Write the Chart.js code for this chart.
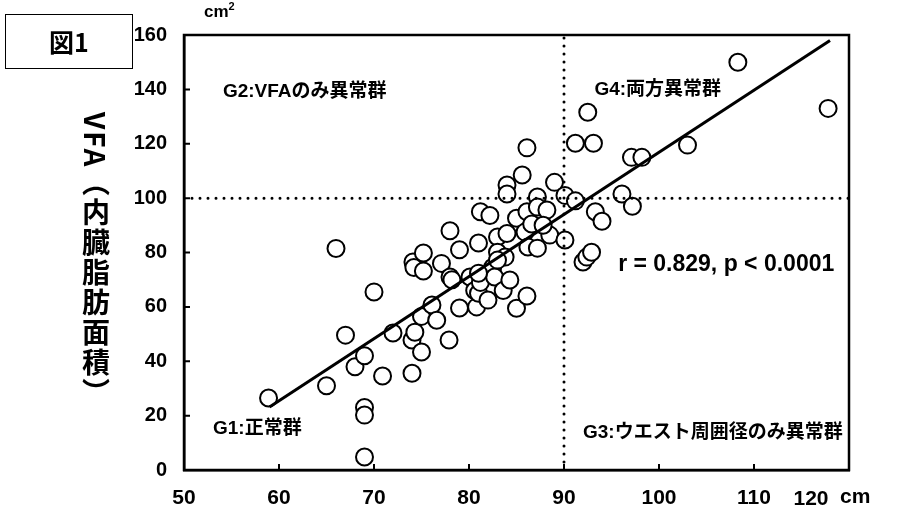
<!DOCTYPE html>
<html>
<head>
<meta charset="utf-8">
<script src="https://cdn.jsdelivr.net/npm/chart.js@4.4.1/dist/chart.umd.min.js"></script>
<style>
  body { margin: 0; background: #fff; }
  #wrap { position: relative; width: 907px; height: 511px; }
  #fig { position: absolute; left: 5px; top: 14px; width: 126px; height: 53px; border: 1.5px solid #000;
         font: bold 25px 'Noto Sans CJK JP', sans-serif; text-align: center; line-height: 53px; }
  #ytitle { position: absolute; left: 82px; top: 112px; writing-mode: vertical-rl; letter-spacing: 2px;
            font: bold 28px 'Noto Sans CJK JP', sans-serif; line-height: 1; }
  #unitY { position: absolute; left: 204px; top: 0px; font: bold 17px 'Liberation Sans', sans-serif; }
  #unitX { position: absolute; left: 840px; top: 484px; font: bold 21px 'Liberation Sans', sans-serif; }
</style>
</head>
<body>
<div id="wrap">
  <canvas id="myChart" width="907" height="511"></canvas>
  <div id="fig">図1</div>
  <div id="ytitle">VFA（内臓脂肪面積）</div>
  <div id="unitY">cm<sup style="font-size:11px">2</sup></div>
  <div id="unitX">cm</div>
</div>
<script>
// waist circumference (cm) and VFA (cm2)
var waist = [58.9, 65, 66, 67, 68, 69, 69, 69, 69, 70,
             70.9, 72, 74, 74, 74.3, 74.1, 74.2, 75, 75, 75.2,
             75.2, 76.1, 76.6, 77.1, 77.9, 78, 78, 78.2, 79, 79,
             80.1, 80.6, 80.8, 81, 81.2, 82.2, 81, 81.2, 82, 82.5,
             82.7, 83, 83, 83.6, 83.8, 84, 84.3, 84, 84, 85,
             85, 85.6, 85.9, 86.1, 86.1, 86.1, 86.2, 87.2, 87.2, 87.2,
             88.2, 88.5, 89, 90.1, 90.1, 91.2, 91.2, 92, 92.4, 92.9,
             92.5, 93.1, 93.3, 94, 96.1, 97.2, 97.1, 98.2, 103, 108.3,
             117.8, 86.6, 87.8, 83, 81];
var vfa = [26.5, 31, 81.5, 49.6, 38, 42, 23, 20.2, 4.8, 65.5,
           34.6, 50.4, 35.6, 47.8, 50.7, 76.5, 74.5, 43.4, 56.5, 79.8,
           73.2, 60.7, 55.1, 76, 47.8, 88, 71, 70, 59.6, 81,
           71, 66, 60, 65, 95, 93.6, 83.5, 69, 62.5, 74.6,
           71, 85.7, 80.1, 66, 78.3, 87, 69.9, 104.8, 101.5, 92.6,
           59.5, 108.5, 87.5, 118.5, 95, 64, 82, 81.6, 100.4, 96.7,
           95.6, 86.4, 105.8, 101, 84.6, 99, 120.2, 76.5, 78.3, 80.1,
           131.6, 120.2, 95, 91.5, 101.5, 97, 115, 115, 119.5, 150,
           133, 90.5, 90, 77.2, 72.4];

// regression line end points
var fitX = [59, 118];
var fitY = [23.2, 158];

// cut-off lines
var waistCut = 90;
var vfaCut = 100;

var xTicks = [50, 60, 70, 80, 90, 100, 110, 120];
var yTicks = [0, 20, 40, 60, 80, 100, 120, 140, 160];

var notes = [
    { text: 'G2:VFAのみ異常群', x: 54.1, y: 139.3 },
    { text: 'G4:両方異常群', x: 93.2, y: 139.7 },
    { text: 'G1:正常群', x: 53.05, y: 15.1 },
    { text: 'G3:ウエスト周囲径のみ異常群', x: 92, y: 13.6 },
    { text: 'r = 0.829, p < 0.0001', x: 95.7, y: 75.4, big: true }
];

var numFont = "'Liberation Sans Narrow', 'Liberation Sans', Arial, sans-serif";

var decor = {
    id: 'decor',
    afterDatasetsDraw: function (chart) {
        var ctx = chart.ctx, a = chart.chartArea;
        var xs = chart.scales.x, ys = chart.scales.y;
        ctx.save();
        ctx.strokeStyle = '#000';
        ctx.lineWidth = 2.5;
        ctx.strokeRect(a.left, a.top, a.right - a.left, a.bottom - a.top);
        // ticks point inward
        ctx.lineWidth = 2;
        ctx.beginPath();
        yTicks.forEach(function (v) {
            var p = ys.getPixelForValue(v);
            ctx.moveTo(a.left, p); ctx.lineTo(a.left + 6, p);
        });
        xTicks.forEach(function (v) {
            var p = xs.getPixelForValue(v);
            ctx.moveTo(p, a.bottom); ctx.lineTo(p, a.bottom - 6);
        });
        ctx.stroke();

        ctx.fillStyle = '#000';
        ctx.textBaseline = 'middle';
        ctx.textAlign = 'left';
        notes.forEach(function (n) {
            ctx.font = n.big ? "bold 23px 'Liberation Sans', 'Noto Sans CJK JP', sans-serif"
                             : "bold 19px 'Liberation Sans', 'Noto Sans CJK JP', sans-serif";
            ctx.fillText(n.text, xs.getPixelForValue(n.x), ys.getPixelForValue(n.y));
        });

        // last x label sits left of its tick in the original
        ctx.font = 'bold 21px ' + numFont;
        ctx.textAlign = 'center';
        ctx.fillText('120', xs.getPixelForValue(120) - 38, a.bottom + 29);
        ctx.restore();
    }
};

var ctx = document.getElementById('myChart').getContext('2d');
var chart = new Chart(ctx, {
    type: 'scatter',
    data: {
        datasets: [{
            label: 'fit',
            data: fitX.map(function (v, i) { return { x: v, y: fitY[i] }; }),
            showLine: true,
            borderColor: '#000',
            borderWidth: 3,
            pointRadius: 0,
            order: 0
        }, {
            label: 'vfa cut',
            data: [{ x: 50, y: vfaCut }, { x: 120, y: vfaCut }],
            showLine: true,
            borderColor: '#000',
            borderWidth: 3,
            borderDash: [0, 8],
            borderCapStyle: 'round',
            pointRadius: 0,
            order: 0
        }, {
            label: 'waist cut',
            data: [{ x: waistCut, y: 0 }, { x: waistCut, y: 160 }],
            showLine: true,
            borderColor: '#000',
            borderWidth: 3,
            borderDash: [0, 8],
            borderCapStyle: 'round',
            pointRadius: 0,
            order: 0
        }, {
            label: 'subjects',
            data: waist.map(function (v, i) { return { x: v, y: vfa[i] }; }),
            backgroundColor: '#fff',
            borderColor: '#000',
            borderWidth: 2,
            pointRadius: 8.5,
            order: 1
        }]
    },
    options: {
        responsive: false,
        animation: false,
        layout: { padding: { left: 0, top: 35, right: 58, bottom: 0 } },
        plugins: { legend: { display: false }, tooltip: { enabled: false } },
        scales: {
            x: {
                type: 'linear', min: 50, max: 120,
                afterFit: function (s) { s.height = 41; },
                afterBuildTicks: function (s) { s.ticks = xTicks.map(function (v) { return { value: v }; }); },
                grid: { display: false, drawTicks: false },
                border: { display: true, color: '#000', width: 2.5 },
                ticks: {
                    padding: 16, color: '#000', maxRotation: 0,
                    font: { family: numFont, size: 21, weight: 'bold' },
                    callback: function (v) { return v === 120 ? '' : v; }
                }
            },
            y: {
                type: 'linear', min: 0, max: 160,
                afterFit: function (s) { s.width = 184; },
                afterBuildTicks: function (s) { s.ticks = yTicks.map(function (v) { return { value: v }; }); },
                grid: { display: false, drawTicks: false },
                border: { display: true, color: '#000', width: 2.5 },
                ticks: {
                    padding: 17, color: '#000',
                    font: { family: numFont, size: 20, weight: 'bold' }
                }
            }
        }
    },
    plugins: [decor]
});
</script>
</body>
</html>
